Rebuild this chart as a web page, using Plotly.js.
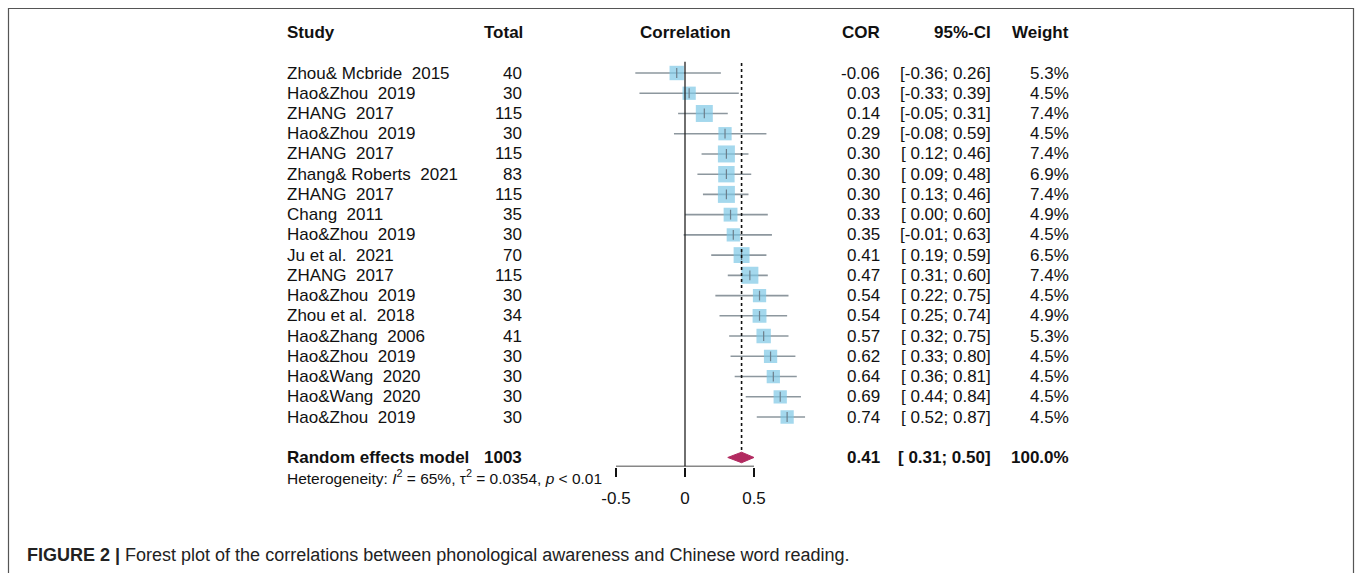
<!DOCTYPE html>
<html>
<head>
<meta charset="utf-8">
<script src="https://cdn.plot.ly/plotly-3.0.1.min.js"></script>
<style>html,body{margin:0;padding:0;background:#fff;}</style>
</head>
<body>
<div id="chart" style="width:1357px;height:573px;"></div>
<script>
// ---- data ----
var studies = ["Zhou& Mcbride  2015","Hao&Zhou  2019","ZHANG  2017","Hao&Zhou  2019","ZHANG  2017","Zhang& Roberts  2021","ZHANG  2017","Chang  2011","Hao&Zhou  2019","Ju et al.  2021","ZHANG  2017","Hao&Zhou  2019","Zhou et al.  2018","Hao&Zhang  2006","Hao&Zhou  2019","Hao&Wang  2020","Hao&Wang  2020","Hao&Zhou  2019"];
var totals = [40,30,115,30,115,83,115,35,30,70,115,30,34,41,30,30,30,30];
var cor = [-0.06,0.03,0.14,0.29,0.30,0.30,0.30,0.33,0.35,0.41,0.47,0.54,0.54,0.57,0.62,0.64,0.69,0.74];
var lower = [-0.36,-0.33,-0.05,-0.08,0.12,0.09,0.13,0.00,-0.01,0.19,0.31,0.22,0.25,0.32,0.33,0.36,0.44,0.52];
var upper = [0.26,0.39,0.31,0.59,0.46,0.48,0.46,0.60,0.63,0.59,0.60,0.75,0.74,0.75,0.80,0.81,0.84,0.87];
var weights = [5.3,4.5,7.4,4.5,7.4,6.9,7.4,4.9,4.5,6.5,7.4,4.5,4.9,5.3,4.5,4.5,4.5,4.5];
var summaryLabel = "Random effects model";
var summaryTotal = 1003;
var summaryCor = 0.41;
var summaryLower = 0.31;
var summaryUpper = 0.50;
var summaryWeight = 100.0;
var heterogeneity = "Heterogeneity: <i>I</i><sup>2</sup> = 65%, \u03c4<sup>2</sup> = 0.0354, <i>p</i> < 0.01";
var xTickVals = [-0.5, 0, 0.5];
var xTickText = ["-0.5", "0", "0.5"];
var caption = "<b>FIGURE 2 |</b> Forest plot of the correlations between phonological awareness and Chinese word reading.";

// ---- helpers ----
var W = 1357, H = 573;
var FONT = "Liberation Sans, Arial, sans-serif";
function nb(s){ return String(s).replace(/ /g, "\u00a0"); }
function f2(v){ var s = v.toFixed(2); if (s === "-0.00") s = "0.00"; return v < 0 ? s : "\u00a0" + s; }
function ci(lo, hi){ return "[" + f2(lo) + "; " + hi.toFixed(2) + "]"; }
function px(x){ return x / W; }

var n = studies.length;
var ys = studies.map(function(_, i){ return i; });
var summaryY = n + 1;

// CI lines
var lx = [], ly = [];
for (var i = 0; i < n; i++){ lx.push(lower[i], upper[i], null); ly.push(i, i, null); }

var traces = [
  {type:"scatter", mode:"lines", x:lx, y:ly, line:{color:"#8d979e", width:1.6}, hoverinfo:"skip"},
  {type:"scatter", mode:"markers", x:cor, y:ys,
   marker:{symbol:"square", color:"#7ec8e6", size:weights.map(function(w){ return 17*Math.sqrt(w/7.4); }), line:{width:0}}, hoverinfo:"skip"},
  {type:"scatter", mode:"markers", x:cor, y:ys,
   marker:{symbol:"line-ns-open", size:7, color:"#6d7f8c", line:{color:"#6d7f8c", width:1.2}}, hoverinfo:"skip"},
  {type:"scatter", mode:"lines", fill:"toself", fillcolor:"#b22a60",
   x:[summaryLower, summaryCor, summaryUpper, summaryCor, summaryLower],
   y:[summaryY, summaryY-0.26, summaryY, summaryY+0.26, summaryY],
   line:{color:"#b22a60", width:1}, hoverinfo:"skip"}
];

var yBottom = (466.5 - 73) / 20.235;
var yTop = -73 / 20.235;

var shapes = [
  {type:"line", xref:"x", yref:"y", x0:0, x1:0, y0:-0.55, y1:yBottom, line:{color:"#222", width:1.3}},
  {type:"line", xref:"x", yref:"y", x0:summaryCor, x1:summaryCor, y0:-0.5, y1:summaryY-0.26, line:{color:"#111", width:1.6, dash:"dot"}},
  {type:"line", xref:"x", yref:"y", x0:xTickVals[0], x1:xTickVals[xTickVals.length-1], y0:yBottom, y1:yBottom, line:{color:"#111", width:1.3}},
  {type:"rect", xref:"paper", yref:"paper", x0:px(8.5), x1:px(1353.5), y0:-0.05, y1:1-8.5/H, line:{color:"#555", width:1.2}}
];

var ann = [];
function A(text, x, y, anchor, opts){
  opts = opts || {};
  ann.push({text:text, xref:"paper", yref: opts.yref || "y", x:px(x), y:y, xanchor:anchor, yanchor:"middle",
            showarrow:false, font:{family:FONT, size:opts.size || 17, color:"#111"}});
}
var hy = -1.98;
A("<b>Study</b>", 285, hy, "left");
A("<b>Total</b>", 525, hy, "right");
A("<b>Correlation</b>", 685, hy, "center");
A("<b>COR</b>", 882, hy, "right");
A("<b>95%-CI</b>", 993, hy, "right");
A("<b>Weight</b>", 1071, hy, "right");
for (var i = 0; i < n; i++){
  A(nb(studies[i]), 285, i, "left");
  A(String(totals[i]), 524, i, "right");
  A(cor[i].toFixed(2), 882, i, "right");
  A(ci(lower[i], upper[i]), 993, i, "right");
  A(weights[i].toFixed(1) + "%", 1071, i, "right");
}
A("<b>" + summaryLabel + "</b>", 285, summaryY, "left");
A("<b>" + summaryTotal + "</b>", 524, summaryY, "right");
A("<b>" + summaryCor.toFixed(2) + "</b>", 882, summaryY, "right");
A("<b>" + ci(summaryLower, summaryUpper) + "</b>", 993, summaryY, "right");
A("<b>" + summaryWeight.toFixed(1) + "%</b>", 1071, summaryY, "right");
A(heterogeneity, 285, 1 - 477/H, "left", {yref:"paper", size:15.5});
ann.push({text:caption, xref:"paper", yref:"paper", x:px(25), y:1-555/H, xanchor:"left", yanchor:"middle",
          showarrow:false, font:{family:"Liberation Sans Narrow, Arial Narrow, sans-serif", size:18, color:"#222"}});

var layout = {
  width:W, height:H, margin:{l:0, r:0, t:0, b:0, pad:0},
  paper_bgcolor:"#fff", plot_bgcolor:"rgba(0,0,0,0)", showlegend:false,
  xaxis:{domain:[px(600), px(820)], range:[-85/138, 135/138], tickvals:xTickVals, ticktext:xTickText,
         ticks:"outside", ticklen:9, tickwidth:1.3, tickcolor:"#111", ticklabelstandoff:7, showgrid:false, zeroline:false, showline:false,
         tickfont:{family:FONT, size:17, color:"#111"}, fixedrange:true},
  yaxis:{domain:[(H-466.5)/H, 1], range:[yBottom, yTop], visible:false, fixedrange:true},
  shapes:shapes, annotations:ann
};
Plotly.newPlot("chart", traces, layout, {staticPlot:true, displayModeBar:false});
</script>
</body>
</html>
